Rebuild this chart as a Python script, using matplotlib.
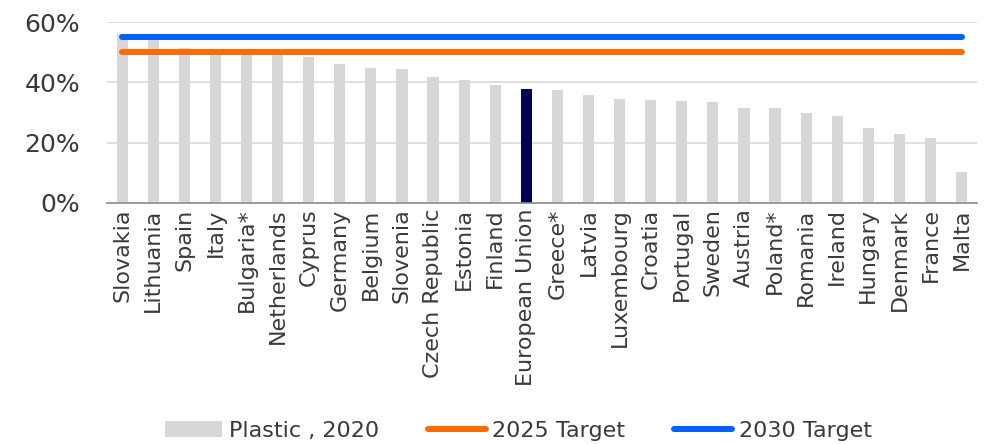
import matplotlib.pyplot as plt
import numpy as np

countries = ['Slovakia', 'Lithuania', 'Spain', 'Italy', 'Bulgaria*', 'Netherlands', 'Cyprus',
             'Germany', 'Belgium', 'Slovenia', 'Czech Republic', 'Estonia', 'Finland',
             'European Union', 'Greece*', 'Latvia', 'Luxembourg', 'Croatia', 'Portugal',
             'Sweden', 'Austria', 'Poland*', 'Romania', 'Ireland', 'Hungary', 'Denmark',
             'France', 'Malta']
plastic_2020 = [56.2, 55.0, 51.3, 51.0, 49.8, 49.5, 48.5, 46.2, 44.7, 44.6, 41.8, 40.9, 39.3,
                37.9, 37.6, 35.8, 34.6, 34.1, 33.8, 33.4, 31.5, 31.4, 30.0, 28.8, 24.9, 22.9,
                21.4, 10.2]
target_2025 = 50
target_2030 = 55

plt.rcParams['font.family'] = ['DejaVu Sans']
text_col = '#3a3a3a'

fig = plt.figure(figsize=(9.87, 4.44), dpi=100)
ax = fig.add_axes([0.108, 0.543, 0.882, 0.407])

x = np.arange(len(countries))
colors = ['#000050' if c == 'European Union' else '#d6d7d9' for c in countries]
bars = ax.bar(x, plastic_2020, width=0.36, color=colors, zorder=2)
l25, = ax.plot([x[0], x[-1]], [target_2025] * 2, color='#ff6a00', lw=4.3,
               solid_capstyle='round', zorder=3)
l30, = ax.plot([x[0], x[-1]], [target_2030] * 2, color='#0060ff', lw=4.3,
               solid_capstyle='round', zorder=3)

ax.set_xlim(-0.5, len(countries) - 0.5)
ax.set_ylim(0, 60)
ax.set_yticks([0, 20, 40, 60])
ax.set_yticklabels(['0%', '20%', '40%', '60%'], fontsize=18, color=text_col)
ax.set_xticks(x)
ax.set_xticklabels(countries, rotation=90, fontsize=16, color=text_col)
ax.tick_params(length=0, pad=4)
ax.tick_params(axis='y', pad=19)
ax.grid(axis='y', color='#d9d9d9', lw=1.2, zorder=0)
for s in ['top', 'right', 'left']:
    ax.spines[s].set_visible(False)
ax.spines['bottom'].set_color('#8c8c8c')
ax.spines['bottom'].set_linewidth(1.2)

fig.legend([bars.patches[0], l25, l30], ['Plastic , 2020', '2025 Target', '2030 Target'],
           loc='center', bbox_to_anchor=(0.525, 0.03), ncol=3, frameon=False,
           fontsize=16, handlelength=2.6, handletextpad=0.3, columnspacing=2.2,
           labelcolor=text_col)

fig.savefig('out.png', dpi=100)
